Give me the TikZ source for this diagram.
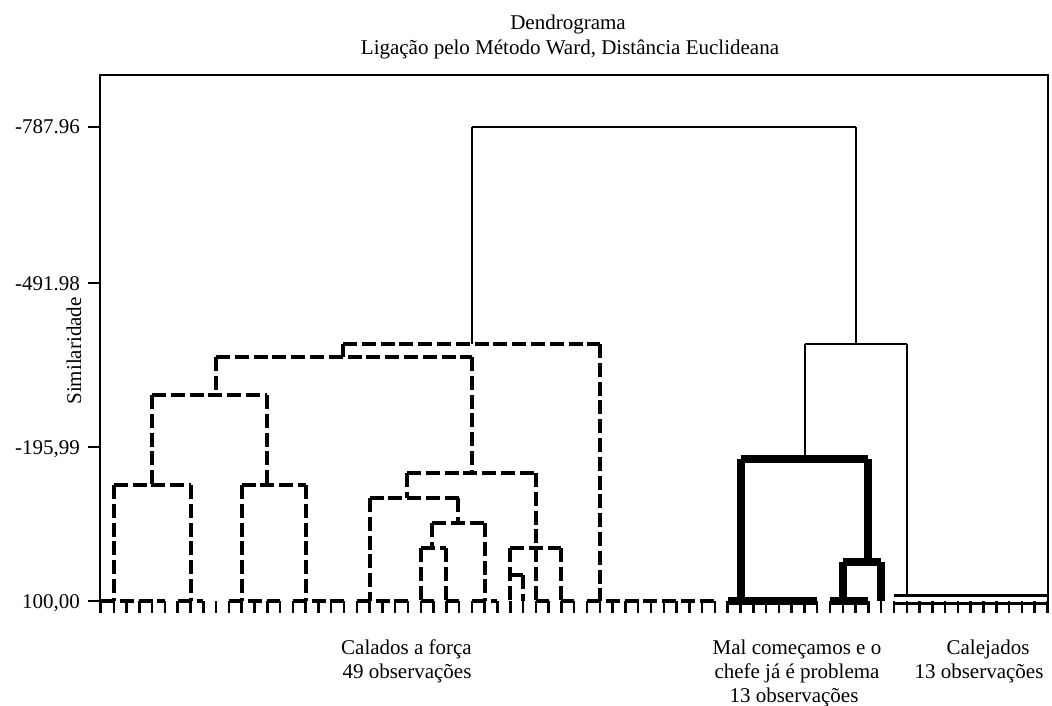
\documentclass[tikz,border=0pt]{standalone}
\usepackage{fontspec}
\setmainfont{Liberation Serif}
\newcommand\lf[1]{101+12.79*#1}
\begin{document}
\begin{tikzpicture}[x=1pt,y=-1pt,
  dsh/.style={line width=4pt,dash pattern=on 14pt off 4.8pt,line cap=butt},
  thk/.style={line width=8pt,line cap=butt},
  thn/.style={line width=2.2pt,line cap=butt},
  frm/.style={line width=2.4pt,line join=miter},
  tck/.style={line width=2.5pt,line cap=butt},
  lbl/.style={font=\fontsize{21}{24}\selectfont,inner sep=0pt}]
\useasboundingbox (0,0) rectangle (1052,706);
\fill[white] (0,0) rectangle (1052,706);

% title
\node[lbl,anchor=base] (title1) at (568,30) {Dendrograma};
\node[lbl,anchor=base] (title2) at (570,55) {Ligação pelo Método Ward, Distância Euclideana};

% frame and axis
\draw[frm] (100,613) -- (100,75) -- (1047.7,75) -- (1047.7,613);
\foreach \yy/\tx/\nm in {127/-787.96/ya, 283/-491.98/yb, 447/-195{,}99/yc, 601/100{,}00/yd}{
  \draw[tck] (88,\yy) -- (100,\yy);
  \node[lbl,anchor=base east] (\nm) at (80,\yy+7) {\tx};
}
\node[lbl,rotate=90] (ylab) at (74,351) {Similaridade};

% leaf ticks
\foreach \i in {0,...,74}{
  \draw[tck] (\lf{\i},601) -- (\lf{\i},613);
}

% ---------- cluster 1 (dashed) ----------
% bottom joins
\foreach \a/\b in {0/5,6/8,10/14,15/19,20/24,25/26,27/28,29/31,34/35,36/37,38/48}{
  \draw[dsh] (\lf{\a},601) -- (\lf{\b},601);
}
% verticals
\foreach \i/\t in {1/485,7/485,11/485,16/485,21/498,25/548,27/548,30/523,32/548,33/575,34/473,36/548,39/344}{
  \draw[dsh] (\lf{\i},\t) -- (\lf{\i},601);
}
\draw[dsh] (152,395) -- (152,485);
\draw[dsh] (267,395) -- (267,485);
\draw[dsh] (216,357) -- (216,395);
\draw[dsh] (343,344) -- (343,357);
\draw[dsh] (471.7,357) -- (471.7,473);
\draw[dsh] (407,473) -- (407,498);
\draw[dsh] (458,498) -- (458,523);
\draw[dsh] (432,523) -- (432,548);
% horizontals
\draw[dsh] (343,344) -- (\lf{39},344);
\draw[dsh] (216,357) -- (471.7,357);
\draw[dsh] (152,395) -- (267,395);
\draw[dsh] (\lf{1},485) -- (\lf{7},485);
\draw[dsh] (\lf{11},485) -- (\lf{16},485);
\draw[dsh] (407,473) -- (\lf{34},473);
\draw[dsh] (\lf{21},498) -- (460,498);
\draw[dsh] (432,523) -- (\lf{30},523);
\draw[dsh] (\lf{25},548) -- (\lf{27},548);
\draw[dsh] (\lf{32},548) -- (\lf{36},548);
\draw[dsh] (\lf{32},575) -- (\lf{33},575);

% ---------- cluster 2 (thick) ----------
\draw[thk] (\lf{49},601) -- (\lf{56},601);
\draw[thk] (\lf{57},601) -- (\lf{60},601);
\draw[thk] (\lf{50},459) -- (\lf{50},601);
\draw[thk] (\lf{50},459) -- (\lf{60},459);
\draw[thk] (\lf{60},459) -- (\lf{60},562);
\draw[thk] (\lf{58},562) -- (\lf{61},562);
\draw[thk] (\lf{58},562) -- (\lf{58},601);
\draw[thk] (\lf{61},562) -- (\lf{61},601);

% ---------- cluster 3 (thin) and top links ----------
\draw[thn,line width=3.5pt] (\lf{62},595.3) -- (\lf{74},595.3);
\draw[thn,line width=3.5pt] (\lf{62},603.7) -- (\lf{74},603.7);
\draw[thn] (\lf{63},344) -- (\lf{63},595.3);
\draw[thn] (805,344) -- (\lf{63},344);
\draw[thn] (805,344) -- (805,459);
\draw[thn] (471.7,127) -- (856,127);
\draw[thn] (471.7,127) -- (471.7,344);
\draw[thn] (856,127) -- (856,344);

% ---------- group labels ----------
\node[lbl,anchor=base] (g1a) at (406.5,654) {Calados a força};
\node[lbl,anchor=base] (g1b) at (407,678) {49 observações};
\node[lbl,anchor=base] (g2a) at (797,654) {Mal começamos e o};
\node[lbl,anchor=base] (g2b) at (797,678) {chefe já é problema};
\node[lbl,anchor=base] (g2c) at (794,702) {13 observações};
\node[lbl,anchor=base] (g3a) at (988,654) {Calejados};
\node[lbl,anchor=base] (g3b) at (979,678) {13 observações};
\end{tikzpicture}
\end{document}
